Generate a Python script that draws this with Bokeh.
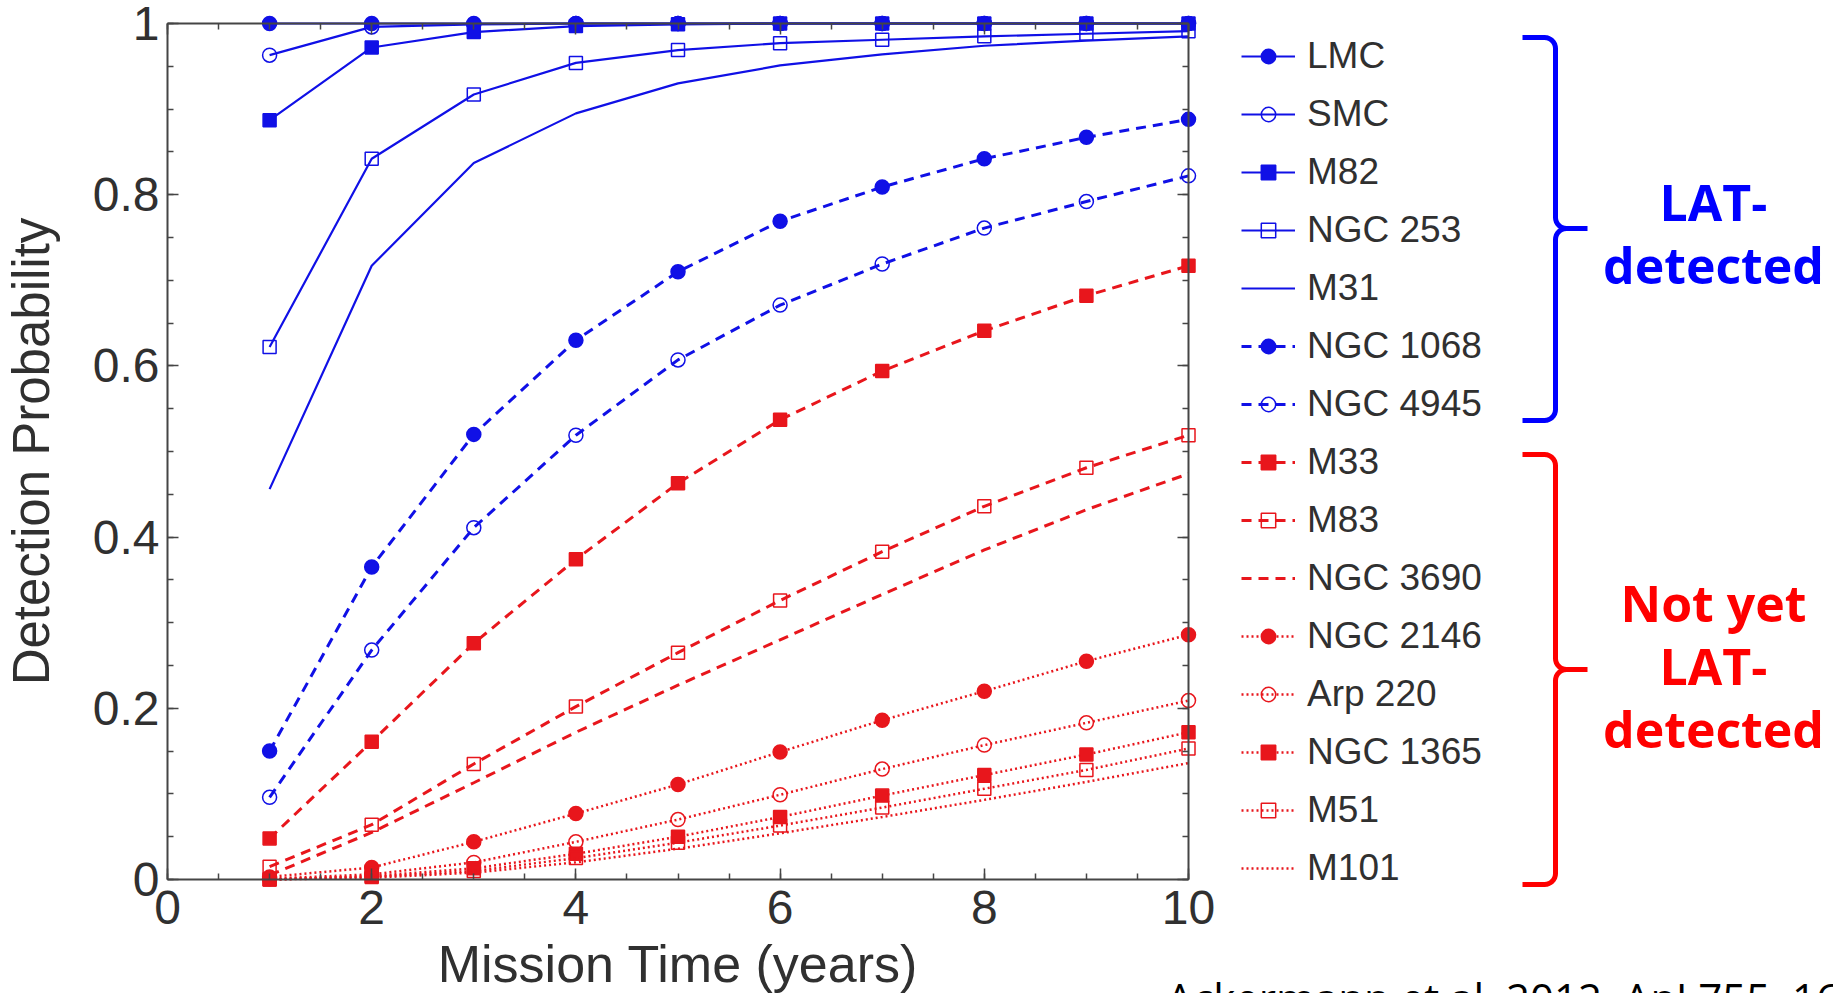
import math
from bokeh.plotting import figure
from bokeh.models import (Range1d, LinearAxis, FixedTicker, Legend, LegendItem, Label, Grid)
from bokeh.embed import file_html
from bokeh.resources import INLINE

# ---------------- data ----------------
years = [1, 2, 3, 4, 5, 6, 7, 8, 9, 10]

series_names = ["LMC", "SMC", "M82", "NGC 253", "M31", "NGC 1068", "NGC 4945",
                "M33", "M83", "NGC 3690", "NGC 2146", "Arp 220", "NGC 1365", "M51", "M101"]

LMC      = [1.000, 1.000, 1.000, 1.000, 1.000, 1.000, 1.000, 1.000, 1.000, 1.000]
SMC      = [0.963, 0.996, 0.999, 1.000, 1.000, 1.000, 1.000, 1.000, 1.000, 1.000]
M82      = [0.887, 0.972, 0.990, 0.997, 0.999, 1.000, 1.000, 1.000, 1.000, 1.000]
NGC253   = [0.622, 0.842, 0.917, 0.954, 0.969, 0.977, 0.981, 0.985, 0.988, 0.991]
M31      = [0.456, 0.717, 0.837, 0.895, 0.930, 0.951, 0.964, 0.974, 0.980, 0.985]
NGC1068  = [0.150, 0.365, 0.520, 0.630, 0.710, 0.769, 0.809, 0.842, 0.867, 0.888]
NGC4945  = [0.096, 0.268, 0.411, 0.519, 0.607, 0.671, 0.719, 0.761, 0.792, 0.822]
M33      = [0.048, 0.161, 0.276, 0.374, 0.463, 0.537, 0.594, 0.641, 0.682, 0.717]
M83      = [0.015, 0.064, 0.135, 0.202, 0.265, 0.326, 0.383, 0.436, 0.481, 0.519]
NGC3690  = [0.005, 0.055, 0.113, 0.172, 0.227, 0.280, 0.333, 0.385, 0.432, 0.474]
NGC2146  = [0.003, 0.014, 0.044, 0.077, 0.111, 0.149, 0.186, 0.220, 0.255, 0.286]
Arp220   = [0.001, 0.006, 0.020, 0.044, 0.070, 0.099, 0.129, 0.157, 0.183, 0.209]
NGC1365  = [0.000, 0.004, 0.013, 0.030, 0.050, 0.073, 0.098, 0.122, 0.146, 0.172]
M51      = [0.000, 0.003, 0.010, 0.025, 0.043, 0.063, 0.084, 0.106, 0.128, 0.153]
M101     = [0.000, 0.002, 0.008, 0.020, 0.036, 0.054, 0.073, 0.093, 0.114, 0.136]

series_values = [LMC, SMC, M82, NGC253, M31, NGC1068, NGC4945,
                 M33, M83, NGC3690, NGC2146, Arp220, NGC1365, M51, M101]

x_ticks = [0, 2, 4, 6, 8, 10]
x_tick_labels = ["0", "2", "4", "6", "8", "10"]
y_ticks = [0, 0.2, 0.4, 0.6, 0.8, 1]
y_tick_labels = ["0", "0.2", "0.4", "0.6", "0.8", "1"]

x_title = "Mission Time (years)"
y_title = "Detection Probability"
group_labels = [["LAT-", "detected"], ["Not yet", "LAT-", "detected"]]
citation = "Ackermann et al. 2012, ApJ 755, 164"

# ---------------- styles ----------------
BLUE = "#1010e6"
RED = "#e8161c"
DASH = "10 7"
DOT = "2 3"
styles = [
    # color, dash, marker, filled
    (BLUE, "solid", "circle", True),
    (BLUE, "solid", "circle", False),
    (BLUE, "solid", "square", True),
    (BLUE, "solid", "square", False),
    (BLUE, "solid", None, False),
    (BLUE, DASH, "circle", True),
    (BLUE, DASH, "circle", False),
    (RED, DASH, "square", True),
    (RED, DASH, "square", False),
    (RED, DASH, None, False),
    (RED, DOT, "circle", True),
    (RED, DOT, "circle", False),
    (RED, DOT, "square", True),
    (RED, DOT, "square", False),
    (RED, DOT, None, False),
]

W, H = 1833, 993
X0PX, X10PX = 167, 1188    # canvas px of x=0 and x=10
Y1PX, Y0PX = 23, 879       # canvas px of y=1 and y=0
PX_X = (X10PX - X0PX) / 10.0
PX_Y = float(Y0PX - Y1PX)

def dx(px):   # canvas px -> data x
    return (px - X0PX) / PX_X

def dy(py):   # canvas px -> data y
    return (Y0PX - py) / PX_Y

p = figure(width=W, height=H, x_range=Range1d(dx(0), dx(W)), y_range=Range1d(dy(H), dy(0)),
           output_backend="svg", toolbar_location=None,
           x_axis_location=None, y_axis_location=None,
           min_border_left=0, min_border_top=0, min_border_right=0, min_border_bottom=0,
           outline_line_color=None, background_fill_color="white", border_fill_color="white")
for r in p.center:
    if isinstance(r, Grid):
        r.visible = False

AX = "#454545"
TXT = "#303030"
FONT = "Liberation Sans"

def style_axis(ax, labels=True):
    ax.axis_line_color = AX
    ax.axis_line_width = 2
    ax.major_tick_in = 11
    ax.major_tick_out = 0
    ax.minor_tick_in = 6
    ax.minor_tick_out = 0
    ax.major_tick_line_color = AX
    ax.minor_tick_line_color = AX
    ax.major_tick_line_width = 1.5
    ax.minor_tick_line_width = 1.5
    ax.major_label_text_font = FONT
    ax.major_label_text_font_size = "48px"
    ax.major_label_text_color = TXT
    if not labels:
        ax.major_label_text_font_size = "0px"
        ax.major_label_text_alpha = 0
        ax.major_label_standoff = 0

x_minor = [i * 0.5 for i in range(21)]
y_minor = [i * 0.05 for i in range(21)]

xaxis = LinearAxis(ticker=FixedTicker(ticks=x_ticks, minor_ticks=x_minor), bounds=(0, 10),
                   fixed_location=0,
                   major_label_overrides=dict(zip(x_ticks, x_tick_labels)))
style_axis(xaxis)
xaxis.major_label_standoff = 11
p.add_layout(xaxis, "below")

yaxis = LinearAxis(ticker=FixedTicker(ticks=y_ticks, minor_ticks=y_minor), bounds=(0, 1),
                   fixed_location=0,
                   major_label_overrides=dict(zip(y_ticks, y_tick_labels)))
style_axis(yaxis)
yaxis.major_label_standoff = 8
p.add_layout(yaxis, "left")

top = LinearAxis(ticker=FixedTicker(ticks=x_ticks, minor_ticks=x_minor), bounds=(0, 10),
                 fixed_location=1)
style_axis(top, labels=False)
p.add_layout(top, "above")

right = LinearAxis(ticker=FixedTicker(ticks=y_ticks, minor_ticks=y_minor), bounds=(0, 1),
                   fixed_location=10)
style_axis(right, labels=False)
p.add_layout(right, "right")

# axis titles
p.add_layout(Label(x=dx((X0PX + X10PX) / 2), y=dy(963), text=x_title, text_align="center",
                   text_baseline="alphabetic", text_font=FONT, text_font_size="52px",
                   text_color=TXT))
p.add_layout(Label(x=dx(31), y=dy((Y0PX + Y1PX) / 2), text=y_title, angle=math.pi / 2,
                   text_align="center", text_baseline="alphabetic", text_font=FONT,
                   text_font_size="51px", text_color=TXT))

# ---------------- series ----------------
items = []
for name, vals, (col, dash, marker, filled) in zip(series_names, series_values, styles):
    lw = 2.2 if dash == "solid" else (3 if dash == DASH else 2.5)
    rl = p.line(years, vals, line_color=col, line_width=lw, line_dash=dash)
    rends = [rl]
    if marker is not None:
        sz = 14 if marker == "circle" else 13
        rm = p.scatter(years, vals, marker=marker, size=sz, line_color=col, line_width=1.5,
                       fill_color=col if filled else None)
        rends.append(rm)
    items.append(LegendItem(label=name, renderers=rends))

legend = Legend(items=items, location=(1241, 101), orientation="vertical",
                glyph_width=54, glyph_height=36, label_height=48, spacing=10,
                padding=0, margin=0, border_line_color=None, background_fill_alpha=0,
                label_text_font=FONT, label_text_font_size="37px", label_text_color=TXT,
                label_standoff=12)
p.add_layout(legend)

# ---------------- brackets ----------------
def brace(top_y, bot_y, tip_y, x_left=1522, x_vert=1555, x_tip=1587, r=11):
    xs, ys = [], []
    def arc(cx, cy, a0, a1, n=8):
        for k in range(n + 1):
            a = a0 + (a1 - a0) * k / n
            xs.append(cx + r * math.cos(a)); ys.append(cy + r * math.sin(a))
    xs.append(x_left); ys.append(top_y)
    arc(x_vert - r, top_y + r, -math.pi / 2, 0)
    arc(x_vert + r, tip_y - r, math.pi, math.pi / 2)
    xs.append(x_tip); ys.append(tip_y)
    arc(x_vert + r, tip_y + r, -math.pi / 2, -math.pi)
    arc(x_vert - r, bot_y - r, 0, math.pi / 2)
    xs.append(x_left); ys.append(bot_y)
    return [dx(v) for v in xs], [dy(v) for v in ys]

bx, by = brace(37, 420, 228)
p.line(bx, by, line_color="#0000ff", line_width=5)
rx, ry = brace(454, 884, 669)
p.line(rx, ry, line_color="#ff0000", line_width=5)

for txt, base in zip(group_labels[0], [201, 264]):
    p.add_layout(Label(x=dx(1713), y=dy(base), text=txt, text_align="center",
                       text_baseline="alphabetic", text_font="Open Sans",
                       text_font_style="bold", text_font_size="50px", text_color="#0000ff"))
for txt, base in zip(group_labels[1], [602, 665, 728]):
    p.add_layout(Label(x=dx(1713), y=dy(base), text=txt, text_align="center",
                       text_baseline="alphabetic", text_font="Open Sans",
                       text_font_style="bold", text_font_size="50px", text_color="#ff0000"))

p.add_layout(Label(x=dx(1166), y=dy(997), text=citation, text_align="left",
                   text_baseline="alphabetic", text_font="Open Sans",
                   text_font_size="42px", text_color="#000000"))

open("out.html", "w").write(file_html(p, INLINE))
